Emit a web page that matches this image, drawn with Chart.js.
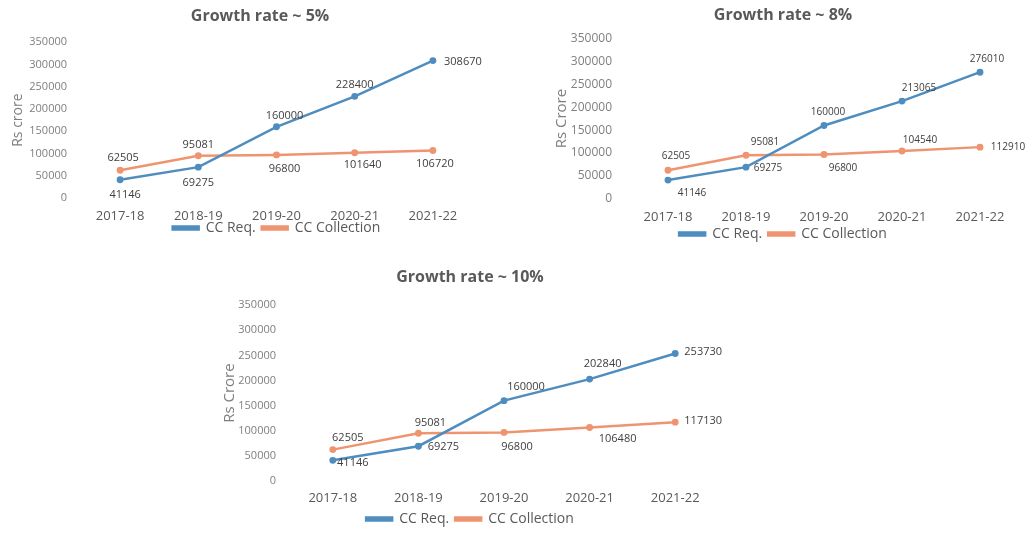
<!DOCTYPE html>
<html>
<head>
<meta charset="utf-8">
<script src="https://cdn.jsdelivr.net/npm/chart.js@4/dist/chart.umd.min.js"></script>
<style>
  html, body { margin: 0; padding: 0; background: #ffffff; overflow: hidden; width: 1032px; height: 533px; }
  .box { position: absolute; }
</style>
</head>
<body>
<div class="box" style="left:0px;top:0px;width:510px;height:245px;"><canvas id="c1"></canvas></div>
<div class="box" style="left:520px;top:0px;width:512px;height:251px;"><canvas id="c2"></canvas></div>
<div class="box" style="left:220px;top:262px;width:520px;height:274px;"><canvas id="c3"></canvas></div>
<script>
// ---- data ----
const categories = ["2017-18", "2018-19", "2019-20", "2020-21", "2021-22"];
const yTicks = [0, 50000, 100000, 150000, 200000, 250000, 300000, 350000];

const req5  = [41146, 69275, 160000, 228400, 308670];
const coll5 = [62505, 95081, 96800, 101640, 106720];

const req8  = [41146, 69275, 160000, 213065, 276010];
const coll8 = [62505, 95081, 96800, 104540, 112910];

const req10  = [41146, 69275, 160000, 202840, 253730];
const coll10 = [62505, 95081, 96800, 106480, 117130];

const titles = ["Growth rate ~ 5%", "Growth rate ~ 8%", "Growth rate ~ 10%"];
const yTitles = ["Rs crore", "Rs Crore", "Rs Crore"];
const seriesNames = ["CC Req.", "CC Collection"];

// ---- styles ----
const BLUE = "#4f8dbf";
const ORANGE = "#ef9470";
const FONT = "'Open Sans', 'Liberation Sans', sans-serif";

// label offsets (style only) [dx, dy] per point
const labelOffsets = [
  { req: [[5,15],[0,16],[8,-11],[0,-11],[30,1]],  coll: [[3,-12],[0,-11],[8,14],[8,12],[2,13]] },
  { req: [[24,13],[22,1],[4,-13],[17,-13],[7,-13]], coll: [[8,-14],[19,-13],[19,14],[18,-11],[28,0]] },
  { req: [[20,3],[25,1],[22,-14],[13,-15],[28,-2]], coll: [[15,-12],[12,-10],[13,14],[28,11],[28,-1]] }
];

const dataLabelPlugin = {
  id: 'dataLabels',
  afterDatasetsDraw(chart, args, opts) {
    const ctx = chart.ctx;
    ctx.save();
    ctx.font = opts.size + "px " + FONT;
    ctx.fillStyle = "#404040";
    ctx.textAlign = "center";
    ctx.textBaseline = "middle";
    chart.data.datasets.forEach((ds, di) => {
      const meta = chart.getDatasetMeta(di);
      const offs = di === 0 ? opts.offsets.req : opts.offsets.coll;
      meta.data.forEach((pt, i) => {
        const o = offs[i] || [0, -10];
        ctx.fillText(String(ds.data[i]), pt.x + o[0], pt.y + o[1]);
      });
    });
    ctx.restore();
  }
};

function makeChart(id, idx, reqData, collData, L) {
  return new Chart(document.getElementById(id), {
    type: 'line',
    data: {
      labels: categories,
      datasets: [
        { label: seriesNames[0], data: reqData, borderColor: BLUE, backgroundColor: BLUE,
          borderWidth: 2.5, pointRadius: 2.2, pointBackgroundColor: BLUE, tension: 0 },
        { label: seriesNames[1], data: collData, borderColor: ORANGE, backgroundColor: ORANGE,
          borderWidth: 2.5, pointRadius: 2.2, pointBackgroundColor: ORANGE, tension: 0 }
      ]
    },
    plugins: [dataLabelPlugin],
    options: {
      responsive: true,
      maintainAspectRatio: false,
      animation: false,
      layout: { padding: { left: L.pl, right: L.pr, top: 0, bottom: 0 } },
      plugins: {
        dataLabels: { offsets: labelOffsets[idx], size: L.dls },
        tooltip: { enabled: false },
        title: {
          display: true, text: titles[idx], color: "#595959",
          font: { family: FONT, size: 16, weight: 'bold' },
          padding: { top: L.tpt, bottom: L.tpb }
        },
        legend: {
          display: true, position: 'bottom', fullSize: L.lfull,
          labels: { color: "#595959", font: { family: FONT, size: 14 },
                    boxWidth: 26, boxHeight: 3, padding: 6 }
        }
      },
      scales: {
        x: {
          type: 'category', offset: true,
          grid: { display: false, drawTicks: false },
          border: { display: false },
          ticks: { color: "#595959", font: { family: FONT, size: 13 }, padding: L.xpad, maxRotation: 0 },
          afterFit: s => { s.height = L.xh; s._computeLabelArea = () => undefined; }
        },
        y: {
          min: 0, max: 350000,
          afterBuildTicks: s => { s.ticks = yTicks.map(v => ({ value: v })); },
          grid: { display: false, drawTicks: false },
          border: { display: false },
          ticks: { color: "#7f7f7f", font: { family: FONT, size: L.yfs }, padding: L.ypad,
                   callback: v => String(v) },
          title: { display: true, text: yTitles[idx], color: "#7f7f7f",
                   font: { family: FONT, size: L.ytfs }, padding: { top: L.ytp, bottom: 0 } },
          afterFit: s => { s.width = L.yw; s._computeLabelArea = () => undefined; }
        }
      }
    }
  });
}

makeChart('c1', 0, req5, coll5,   { pl: 48, pr: 38, tpt: 7, tpb: 16, xpad: 10, xh: 17, yw: 33, ypad: 14, ytp: -38.4, ytfs: 14, yfs: 11, dls: 11, lfull: false });
makeChart('c2', 1, req8, coll8,   { pl: 27, pr: 13, tpt: 6, tpb: 13, xpad: 10, xh: 22, yw: 82, ypad: 17, ytp: 6, ytfs: 15, yfs: 12, dls: 10, lfull: true });
makeChart('c3', 2, req10, coll10, { pl: 2, pr: 22, tpt: 6, tpb: 18, xpad: 9, xh: 25, yw: 68, ypad: 14, ytp: -1, ytfs: 15, yfs: 11, dls: 11, lfull: true });
</script>
</body>
</html>
